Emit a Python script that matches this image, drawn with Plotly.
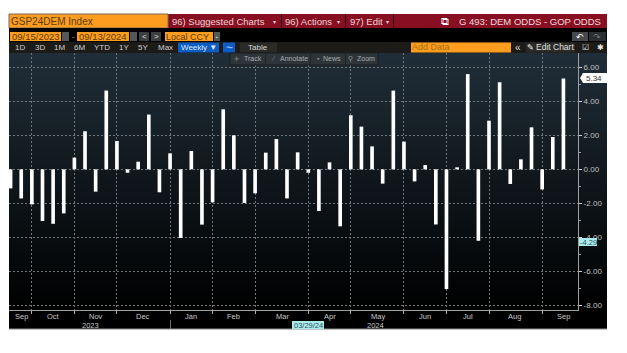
import base64
import pandas as pd
import plotly.graph_objects as go

W, H = 627, 353
FONT = "Liberation Sans"

# ---------- data ----------
start_date = "2023-09-15"
n_weeks = 53
values = [-1.12, -1.71, -2.06, -3.04, -3.20, -2.59, 0.69, 2.24, -1.31, 4.63,
          1.67, -0.20, 0.45, 3.22, -1.35, 0.94, -4.04, 1.08, -3.25, -1.94,
          3.53, 2.00, -1.98, -1.41, 0.98, 1.78, -1.71, 1.00, -0.20, -2.45,
          0.41, -3.35, 3.18, 2.51, 1.35, -0.84, 4.63, 1.63, -0.71, 0.25,
          -3.24, -7.04, 0.12, 5.60, -4.20, 2.86, 5.12, -0.86, 0.59, 2.47,
          -1.18, 1.90, 5.34]
month_ends = ["2023-09-29", "2023-10-27", "2023-11-24", "2023-12-29", "2024-01-26",
              "2024-02-23", "2024-03-29", "2024-04-26", "2024-05-31", "2024-06-28",
              "2024-07-26", "2024-08-30"]
month_labels = ["Sep", "Oct", "Nov", "Dec", "Jan", "Feb", "Mar", "Apr", "May", "Jun",
                "Jul", "Aug", "Sep"]
month_label_dates = ["2023-09-22", "2023-10-13", "2023-11-10", "2023-12-11", "2024-01-12",
                     "2024-02-09", "2024-03-12", "2024-04-12", "2024-05-14", "2024-06-14",
                     "2024-07-12", "2024-08-12", "2024-09-13"]
y_ticks = [-8, -6, -4, -2, 0, 2, 4, 6]
y_minor = [-7, -5, -3, -1, 1, 3, 5]

dates = pd.date_range(start_date, periods=n_weeks, freq="7D")

shapes, annos = [], []


def px(x):
    return x / W


def py(y):
    return 1 - y / H


def rect(x0, y0, x1, y1, fill, line=None, layer="above"):
    shapes.append(dict(type="rect", xref="paper", yref="paper", x0=px(x0), x1=px(x1),
                       y0=py(y1), y1=py(y0), fillcolor=fill, layer=layer,
                       line=dict(width=1 if line else 0, color=line or fill)))


def text(x, y, s, color="#d8d8d8", size=8, anchor="center", family=FONT):
    annos.append(dict(xref="paper", yref="paper", x=px(x), y=py(y), text=s, showarrow=False,
                      xanchor=anchor, yanchor="middle", align=anchor,
                      font=dict(color=color, size=size, family=family),
                      borderpad=0, borderwidth=0))


# ---------- plot-area gradient (smooth SVG backdrop) ----------
svg = ('<svg xmlns="http://www.w3.org/2000/svg" width="598" height="276" preserveAspectRatio="none">'
       '<defs><linearGradient id="g" x1="0" y1="0" x2="0" y2="1">'
       '<stop offset="0" stop-color="#202e39"/><stop offset="0.45" stop-color="#10171c"/>'
       '<stop offset="0.93" stop-color="#000000"/><stop offset="1" stop-color="#000000"/>'
       '</linearGradient></defs><rect width="598" height="276" fill="url(#g)"/></svg>')
backdrop = dict(source="data:image/svg+xml;base64," + base64.b64encode(svg.encode()).decode(),
                xref="paper", yref="paper", x=px(9), y=py(53), sizex=px(598), sizey=276 / H,
                xanchor="left", yanchor="top", sizing="stretch", layer="below")

# ---------- header rows ----------
ORANGE = "#fc9d20"
RED = "#870f21"
INK = "#5a3c08"
rect(9, 14, 607, 28, RED)
rect(9, 14, 168, 28, ORANGE, line="#7a6a50")
text(11, 21, "GSP24DEM Index", INK, 10, "left")
for x in (281, 345, 393):
    rect(x, 14, x + 1, 28, "#2c0a10")
text(172, 21, "96) Suggested Charts", "#e9d5d8", 9.5, "left")
text(274, 21.5, "▾", "#e9d5d8", 6)
text(285, 21, "96) Actions", "#e9d5d8", 9.5, "left")
text(338, 21.5, "▾", "#e9d5d8", 6)
text(350, 21, "97) Edit", "#e9d5d8", 9.5, "left")
text(387, 21.5, "▾", "#e9d5d8", 6)
text(445, 21, "⧉", "#ffffff", 11)
text(459, 21, "G 493: DEM ODDS - GOP ODDS", "#ecdcdf", 9.5, "left")

rect(9, 28, 607, 42, "#000000")
rect(10, 32, 61, 41, ORANGE)
text(12, 36.5, "09/15/2023", INK, 9.5, "left")
rect(62, 32, 69, 41, "#55585a")
text(73.5, 36, "-", ORANGE, 8)
rect(77, 32, 129, 41, ORANGE)
text(79, 36.5, "09/13/2024", INK, 9.5, "left")
rect(130, 32, 137, 41, "#55585a")
rect(139, 32, 149, 41, "#3b3f42")
text(144, 36.5, "<", "#e0e0e0", 8)
rect(151, 32, 161, 41, "#3b3f42")
text(156, 36.5, ">", "#e0e0e0", 8)
rect(165, 32, 213, 41, ORANGE)
text(166, 36.5, "Local CCY", INK, 9, "left")
rect(214, 32, 220, 41, "#55585a")
text(217, 36.5, "▪", "#e0e0e0", 5)
rect(572, 32, 588, 41, "#45494b")
text(580, 36.5, "↶", "#ffffff", 9)
rect(589, 32, 606, 41, "#2b2e30")
text(597, 36.5, "↷", "#777777", 9)

rect(9, 42, 607, 53, "#1c1b17")
for x, s in zip((20, 39.5, 59.5, 79.5, 102, 124, 143, 165),
                ("1D", "3D", "1M", "6M", "YTD", "1Y", "5Y", "Max")):
    text(x, 47.5, s, "#d0d0d0", 8)
rect(178, 42.5, 219, 52.5, "#0d5cc4")
text(198.5, 47.5, "Weekly ▼", "#dfe9f7", 8)
rect(223, 42.5, 235, 52.5, "#0d5cc4")
text(229, 47.5, "〜", "#bcd4f2", 7)
rect(240, 42.5, 277, 52.5, "#2a2a26")
text(258, 47.5, "Table", "#d8d8d8", 8)
rect(411, 42.5, 511, 52.5, ORANGE)
text(412, 47.5, "Add Data", "#a86f10", 9, "left")
text(518, 47, "«", "#d8d8d8", 10)
rect(526, 42.5, 575, 52.5, "#2a2a26")
text(530.5, 47.5, "✎", "#ffffff", 8)
text(536, 47.5, "Edit Chart", "#e0e0e0", 8.5, "left")
text(585, 47.5, "☑", "#e0e0e0", 8)
text(600, 47.5, "✱", "#e8e8e8", 8)

# ---------- floating tool strip ----------
rect(230, 53, 378, 65, "#2e3539", line="#1a1f22")
for x in (265, 310, 345):
    rect(x, 53.5, x + 0.8, 64.5, "#1b2024")
text(237, 59, "✛", "#8a9094", 6)
text(253, 59, "Track", "#a9aeb1", 7)
text(273, 59, "∕", "#8a9094", 7)
text(294, 59, "Annotate", "#a9aeb1", 7)
text(318, 59, "▪", "#8a9094", 7)
text(332, 59, "News", "#a9aeb1", 7)
text(350, 59, "⚲", "#8a9094", 7)
text(366, 59, "Zoom", "#a9aeb1", 7)

# ---------- x axis labels ----------
for d, s in zip(month_label_dates, month_labels):
    annos.append(dict(xref="x", yref="paper", x=d, y=py(316.5), text=s, showarrow=False,
                      xanchor="center", yanchor="middle",
                      font=dict(color="#c8c8c8", size=7.5, family=FONT)))
text(90, 325, "2023", "#c8c8c8", 7.5)
text(375, 325, "2024", "#c8c8c8", 7.5)
rect(170, 320, 170.8, 329, "#8a8a8a")
rect(9, 328.6, 607, 329.4, "#8a8a8a")

# ---------- value flags ----------
rect(292, 321, 324, 329, "#a8ecec")
text(308, 325, "03/29/24", "#30505a", 7.5)
rect(579, 238, 597, 246, "#a8ecec")
text(588, 242, "-4.29", "#30505a", 7.5)
rect(583, 73, 607, 83, "#ffffff")
shapes.append(dict(type="path", xref="paper", yref="paper", layer="above", fillcolor="#ffffff",
                   line=dict(width=0),
                   path="M %f %f L %f %f L %f %f Z" % (px(583), py(73), px(580), py(78), px(583), py(83))))
text(594, 78, "5.34", "#333333", 8)

# ---------- figure ----------
fig = go.Figure(go.Bar(x=dates, y=values, width=2.4 * 86400000,
                       marker=dict(color="#ffffff", line=dict(width=0))))
GRID = "#6f797d"
DASH = "2px,2px"
fig.update_layout(
    width=W, height=H,
    margin=dict(l=0, r=0, t=0, b=0),
    paper_bgcolor="#ffffff",
    plot_bgcolor="rgba(0,0,0,0)",
    showlegend=False,
    shapes=shapes,
    annotations=annos,
    images=[backdrop],
    xaxis=dict(
        domain=[px(9), px(578)],
        type="date",
        range=["2023-09-13 22:48", "2024-09-22 14:24"],
        tickmode="array", tickvals=month_ends, showticklabels=False,
        ticks="outside", ticklen=3, tickcolor="#b0b0b0",
        showgrid=True, gridcolor=GRID, griddash=DASH, gridwidth=1,
        showline=True, linecolor="#a0a0a0", linewidth=1, zeroline=False,
    ),
    yaxis=dict(
        domain=[py(310), py(53)],
        side="right", anchor="x",
        range=[-8.27, 6.84],
        tickmode="array", tickvals=y_ticks,
        ticktext=["%.2f" % v for v in y_ticks],
        ticks="outside", ticklen=3, tickcolor="#d0d0d0",
        tickfont=dict(color="#c0c0c0", size=8, family=FONT),
        minor=dict(tickmode="array", tickvals=y_minor, ticks="outside", ticklen=2,
                   tickcolor="#a0a0a0", showgrid=False),
        showgrid=True, gridcolor=GRID, griddash=DASH, gridwidth=1,
        showline=True, linecolor="#a0a0a0", linewidth=1, zeroline=False,
    ),
)
fig.write_html("out.html", config=dict(displayModeBar=False),
               post_script="document.body.style.margin='0';document.documentElement.style.overflow='hidden';")
